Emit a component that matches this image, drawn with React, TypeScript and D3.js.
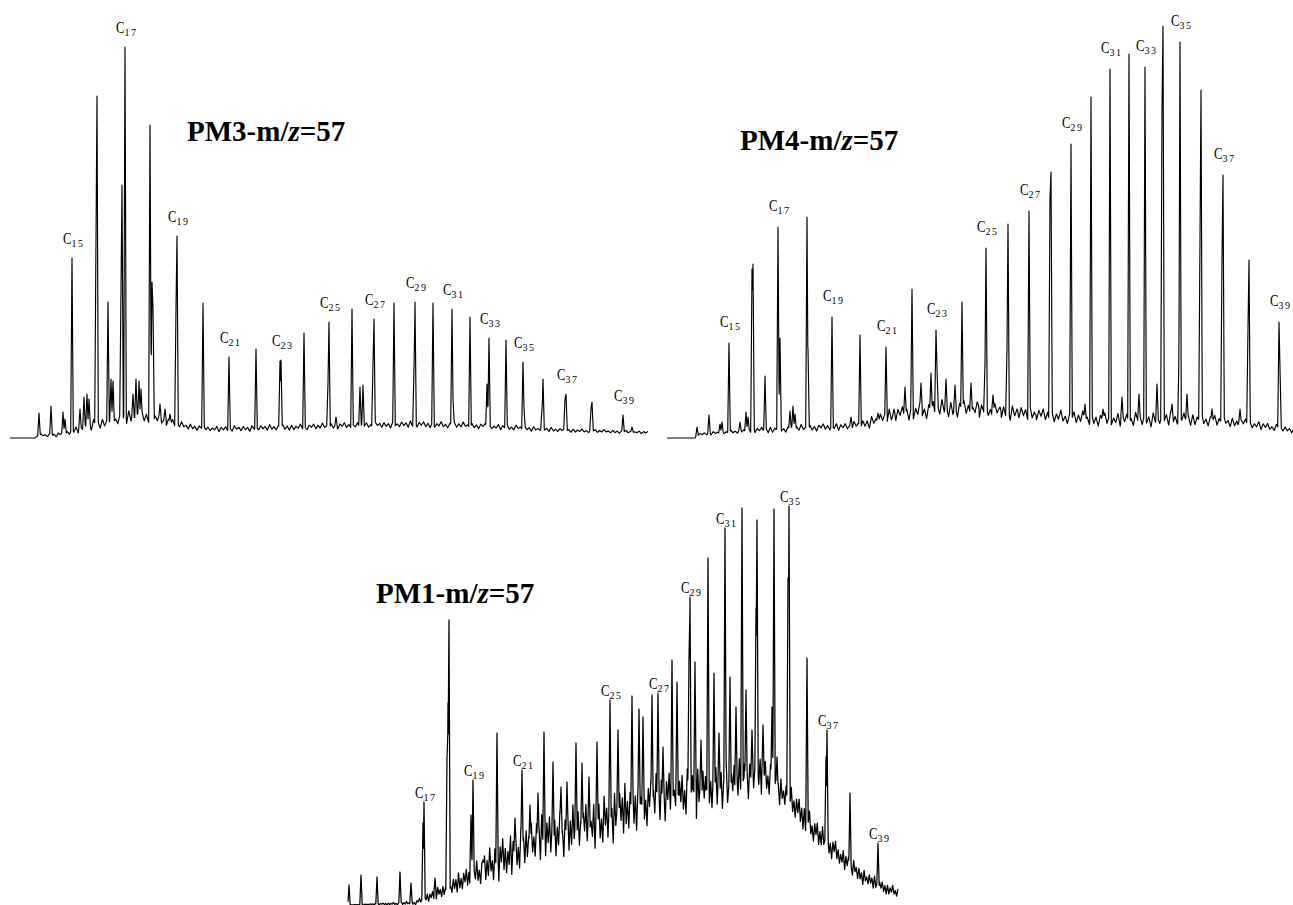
import React from 'react';
import * as d3 from 'd3';

// Shared hand-read jitter texture for the unresolved baseline "grass" (-1..1)
const grassPattern: number[] = [
  0.6, -0.8, 0.3, -0.4, 0.9, -0.6, 0.1, -0.9, 0.5, -0.2, 0.8, -0.7, 0.4, -0.5, 1.0, -0.3,
  0.2, -0.8, 0.7, -0.6, 0.3, -0.9, 0.6, -0.1, 0.9, -0.5, 0.4, -0.7, 0.2, -0.4, 0.8, -0.9,
  0.5, -0.3, 0.7, -0.6, 0.1, -0.8, 0.9, -0.2, 0.4, -0.7, 0.6, -0.5, 0.3, -1.0, 0.8, -0.4,
  0.2, -0.6, 0.7, -0.3, 0.5, -0.8, 1.0, -0.5, 0.3, -0.7, 0.6, -0.2, 0.8, -0.6, 0.4, -0.9,
];

// ---------- PM3 (scan, abundance) ----------
const pm3Base: [number, number][] = [
  [0, 1], [25, 1], [28, 2], [50, 2], [60, 4], [90, 9], [115, 14], [140, 16], [165, 11],
  [190, 8], [210, 7], [300, 9], [380, 11], [440, 11], [490, 9], [540, 7], [590, 6], [638, 5],
];
const pm3Band: [number, number][] = [
  [0, 0], [25, 0], [28, 3], [60, 6], [80, 12], [120, 14], [150, 12], [170, 7], [200, 6],
  [400, 7], [500, 6], [560, 4], [638, 3],
];
const pm3Peaks: [number, number][] = [
  [29, 26], [41, 33], [53, 27], [55, 20], [62, 181], [70, 30], [74, 42], [77, 45], [79, 40],
  [86, 200], [87, 343], [98, 137], [101, 60], [103, 58], [111, 150], [112, 254], [115, 392],
  [123, 45], [126, 60], [129, 58], [131, 50], [140, 314], [142, 157], [143, 130], [150, 35],
  [155, 30], [160, 25], [166, 130], [167, 203], [193, 136], [219, 82], [246, 90], [270, 78],
  [271, 79], [294, 106], [318, 56], [319, 117], [326, 22], [342, 130], [350, 52], [353, 54],
  [363, 75], [364, 120], [384, 136], [404, 70], [405, 137], [423, 136], [442, 130], [443, 40],
  [460, 122], [477, 55], [479, 101], [496, 99], [513, 77], [514, 30], [532, 30], [533, 60],
  [555, 40], [556, 45], [581, 30], [582, 37], [613, 24], [622, 12],
];
const pm3Labels: [number, number][] = [
  [15, 62], [17, 115], [19, 167], [21, 219], [23, 271], [25, 319], [27, 364], [29, 405],
  [31, 442], [33, 479], [35, 513], [37, 556], [39, 613],
];

// ---------- PM4 ----------
const pm4Base: [number, number][] = [
  [0, 1], [28, 1], [31, 3], [73, 5], [133, 7], [193, 9], [213, 13], [233, 17], [253, 19],
  [273, 20], [293, 21], [313, 21], [333, 19], [353, 18], [383, 16], [413, 14], [433, 12],
  [483, 12], [533, 13], [583, 10], [626, 6],
];
const pm4Band: [number, number][] = [
  [0, 0], [28, 0], [31, 3], [100, 7], [180, 8], [213, 14], [260, 20], [330, 17], [400, 14],
  [500, 16], [560, 12], [626, 6],
];
const pm4Peaks: [number, number][] = [
  [30, 12], [42, 24], [53, 15], [55, 17], [62, 96], [73, 17], [79, 27], [81, 22], [85, 170],
  [86, 175], [98, 63], [111, 212], [113, 101], [123, 28], [126, 33], [128, 25], [140, 222],
  [141, 90], [165, 122], [184, 22], [193, 104], [211, 26], [219, 92], [227, 30], [238, 52],
  [245, 150], [254, 56], [264, 66], [269, 109], [270, 70], [279, 60], [288, 54], [295, 137],
  [304, 56], [311, 35], [318, 75], [319, 191], [326, 44], [333, 32], [340, 90], [341, 215],
  [350, 30], [362, 228], [368, 22], [383, 240], [384, 267], [393, 20], [404, 295], [418, 35],
  [424, 342], [436, 30], [443, 370], [455, 42], [462, 385], [472, 45], [478, 372], [490, 55],
  [495, 330], [496, 413], [505, 35], [512, 80], [513, 397], [520, 45], [533, 200], [534, 349],
  [545, 30], [555, 180], [556, 264], [573, 30], [581, 110], [582, 179], [612, 117], [613, 70],
];
const pm4Labels: [number, number][] = [
  [15, 62], [17, 111], [19, 165], [21, 219], [23, 269], [25, 319], [27, 362], [29, 404],
  [31, 443], [33, 478], [35, 513], [37, 556], [39, 612],
];

// ---------- PM1 ----------
const pm1Base: [number, number][] = [
  [0, 3], [67, 3], [102, 11], [132, 23], [152, 25], [182, 41], [212, 48], [242, 55], [272, 68],
  [302, 81], [332, 88], [352, 90], [382, 96], [402, 108], [417, 113], [432, 103], [452, 81],
  [472, 58], [492, 41], [512, 25], [532, 15], [550, 11],
];
const pm1Band: [number, number][] = [
  [0, 0], [67, 4], [102, 18], [132, 28], [152, 45], [182, 48], [212, 52], [242, 52], [272, 55],
  [302, 52], [332, 52], [352, 55], [382, 50], [402, 45], [417, 40], [432, 30], [452, 30],
  [472, 26], [492, 22], [512, 17], [532, 13], [550, 10],
];
const pm1Peaks: [number, number][] = [
  [1, 23], [13, 33], [29, 31], [52, 36], [63, 25], [75, 85], [76, 106], [87, 30], [99, 150],
  [100, 205], [101, 288], [123, 93], [125, 128], [135, 48], [149, 175], [167, 90], [174, 138],
  [182, 103], [190, 115], [196, 176], [205, 146], [213, 121], [219, 126], [228, 165], [234, 145],
  [241, 131], [249, 166], [262, 208], [270, 178], [284, 212], [291, 199], [295, 191], [304, 213],
  [310, 215], [315, 161], [324, 248], [329, 226], [341, 250], [342, 311], [347, 246], [353, 168],
  [360, 350], [366, 235], [371, 175], [377, 380], [382, 231], [388, 201], [394, 400], [398, 218],
  [404, 178], [408, 300], [409, 388], [415, 183], [424, 201], [426, 399], [429, 151], [440, 330],
  [441, 402], [459, 250], [478, 151], [479, 178], [502, 115], [530, 65],
];
const pm1Labels: [number, number][] = [
  [17, 76], [19, 125], [21, 174], [25, 262], [27, 310], [29, 342], [31, 377], [35, 441],
  [37, 479], [39, 530],
];

interface PanelCfg {
  name: string;
  base: [number, number][];
  band: [number, number][];
  peaks: [number, number][];
  labels: [number, number][];
  scanMax: number;
  xRange: [number, number];
  yRange: [number, number];
  titleX: number;
  titleY: number;
  gap: number;
  grassStep: number;
  grassOffset: number;
  peakWidth: number;
  stroke: number;
}

const panels: PanelCfg[] = [
  { name: 'PM3', base: pm3Base, band: pm3Band, peaks: pm3Peaks, labels: pm3Labels, scanMax: 638,
    xRange: [10, 648], yRange: [439, 19], titleX: 187, titleY: 141, gap: 14, grassStep: 2.2, grassOffset: 0, peakWidth: 1.3, stroke: 1.15 },
  { name: 'PM4', base: pm4Base, band: pm4Band, peaks: pm4Peaks, labels: pm4Labels, scanMax: 626,
    xRange: [667, 1293], yRange: [439, 19], titleX: 740, titleY: 150, gap: 16, grassStep: 2.2, grassOffset: 17, peakWidth: 1.3, stroke: 1.15 },
  { name: 'PM1', base: pm1Base, band: pm1Band, peaks: pm1Peaks, labels: pm1Labels, scanMax: 550,
    xRange: [348, 898], yRange: [908, 488], titleX: 376, titleY: 603, gap: 4, grassStep: 1.3, grassOffset: 33, peakWidth: 1.2, stroke: 1.25 },
];

function buildPanel(cfg: PanelCfg) {
  const x = d3.scaleLinear().domain([0, cfg.scanMax]).range(cfg.xRange);
  const y = d3.scaleLinear().domain([0, 420]).range(cfg.yRange);
  const base = d3.scaleLinear().domain(cfg.base.map(d => d[0])).range(cfg.base.map(d => d[1])).clamp(true);
  const band = d3.scaleLinear().domain(cfg.band.map(d => d[0])).range(cfg.band.map(d => d[1])).clamp(true);
  const n = grassPattern.length;
  const grass = (s: number) => {
    const g = s / cfg.grassStep;
    const i = Math.floor(g);
    const f = g - i;
    const a = grassPattern[(i + cfg.grassOffset) % n];
    const b = grassPattern[(i + 1 + cfg.grassOffset) % n];
    return (a + (b - a) * f + 1) / 2;
  };
  const signal = (s: number) => {
    let v = base(s) + band(s) * grass(s);
    const foot = base(s) + band(s) * 0.5;
    for (const [px, h] of cfg.peaks) {
      const d = Math.abs(s - px);
      if (d < cfg.peakWidth) {
        const t = foot + (h - foot) * (1 - d / cfg.peakWidth);
        if (t > v) v = t;
      }
    }
    return v;
  };
  const set = new Set<number>();
  for (let s = 0; s <= cfg.scanMax; s += 1) set.add(s);
  for (let k = 0; k * cfg.grassStep <= cfg.scanMax; k++) set.add(Math.round(k * cfg.grassStep * 100) / 100);
  for (const [px] of cfg.peaks) {
    set.add(px);
    set.add(Math.max(0, px - cfg.peakWidth));
    set.add(Math.min(cfg.scanMax, px + cfg.peakWidth));
  }
  const samples = Array.from(set).sort((a, b) => a - b);
  const line = d3.line<number>().x(s => x(s)).y(s => y(signal(s)));
  const d = line(samples) || '';
  const labels = cfg.labels.map(([c, s]) => ({ c, x: x(s) - 9, y: y(signal(s)) - cfg.gap }));
  return { d, labels };
}

const serif = '"Liberation Serif", "Times New Roman", serif';

export default function App() {
  return (
    <svg width={1293} height={905} style={{ position: 'absolute', left: 0, top: 0, background: '#fff' }}>
      <rect width={1293} height={905} fill="#fff" />
      {panels.map(cfg => {
        const { d, labels } = buildPanel(cfg);
        return (
          <g key={cfg.name}>
            <path d={d} fill="none" stroke="#000" strokeWidth={cfg.stroke} strokeLinejoin="round" />
            {labels.map(l => (
              <g key={l.c} transform={`translate(${l.x},${l.y})`}>
                <text transform="scale(0.75,1)" fontSize={17} fontFamily={serif} fill="#000">C</text>
                <text x={8.5} y={2.5} fontSize={10} fontFamily={serif} letterSpacing={1.5} fill="#000">{l.c}</text>
              </g>
            ))}
            <text x={cfg.titleX} y={cfg.titleY} fontFamily={serif} fontWeight="bold" fontSize={29} fill="#000">
              {cfg.name}-m/<tspan fontStyle="italic">z</tspan>=57
            </text>
          </g>
        );
      })}
    </svg>
  );
}
